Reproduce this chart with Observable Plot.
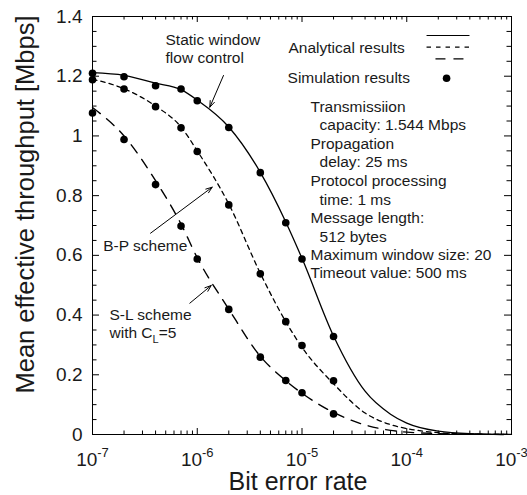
<!DOCTYPE html>
<html><head><meta charset="utf-8">
<script src="https://cdn.jsdelivr.net/npm/d3@7"></script>
<script src="https://cdn.jsdelivr.net/npm/@observablehq/plot@0.6"></script>
<style>body{margin:0;background:#fff;} svg{display:block;}</style>
</head><body><div id="chart"></div>
<script>
// ---- data ----
const berSim = [1e-7, 2e-7, 4e-7, 7e-7, 1e-6, 2e-6, 4e-6, 7e-6, 1e-5, 2e-5];
const simStatic = [1.210, 1.198, 1.168, 1.157, 1.118, 1.028, 0.877, 0.709, 0.588, 0.328];
const simBP     = [1.188, 1.157, 1.098, 1.027, 0.948, 0.769, 0.538, 0.378, 0.298, 0.180];
const simSL     = [1.077, 0.988, 0.837, 0.698, 0.588, 0.419, 0.259, 0.181, 0.140, 0.069];

const berAna = [1e-7, 2e-7, 4e-7, 7e-7, 1e-6, 2e-6, 4e-6, 7e-6, 1e-5, 2e-5, 4e-5, 7e-5, 1e-4, 2e-4, 4e-4, 1e-3];
const anaStatic = [1.212, 1.203, 1.177, 1.155, 1.120, 1.030, 0.878, 0.712, 0.590, 0.330, 0.145, 0.068, 0.038, 0.011, 0.003, 0.0005];
const anaBP     = [1.190, 1.158, 1.100, 1.030, 0.950, 0.772, 0.540, 0.378, 0.292, 0.170, 0.072, 0.033, 0.020, 0.006, 0.0015, 0.0002];
const anaSL     = [1.095, 1.000, 0.850, 0.705, 0.592, 0.420, 0.262, 0.180, 0.138, 0.074, 0.032, 0.014, 0.008, 0.003, 0.001, 0.0001];

const xTickValues = [1e-7, 1e-6, 1e-5, 1e-4, 1e-3];
const xTickExponents = ["-7", "-6", "-5", "-4", "-3"];
const yTickValues = [0, 0.2, 0.4, 0.6, 0.8, 1.0, 1.2, 1.4];
const yTickLabels = ["0", "0.2", "0.4", "0.6", "0.8", "1", "1.2", "1.4"];

const xTitle = "Bit error rate";
const yTitle = "Mean effective throughput [Mbps]";

// annotation texts (positions in data space)
const labels = [
  {t: "Static window", x: 4.98e-7, y: 1.3029},
  {t: "flow control", x: 4.98e-7, y: 1.2436},
  {t: "Analytical results", x: 7.43e-6, y: 1.2761},
  {t: "Simulation results", x: 7.28e-6, y: 1.1756},
  {t: "B-P scheme", x: 1.265e-7, y: 0.613},
  {t: "S-L scheme", x: 1.453e-7, y: 0.3842},
  {t: "with C_L=5", x: 1.453e-7, y: 0.3239},
  {t: "Transmissiion", x: 1.205e-5, y: 1.0795},
  {t: "capacity: 1.544 Mbps", x: 1.47e-5, y: 1.0205},
  {t: "Propagation", x: 1.205e-5, y: 0.9569},
  {t: "delay: 25 ms", x: 1.47e-5, y: 0.8953},
  {t: "Protocol processing", x: 1.205e-5, y: 0.8316},
  {t: "time: 1 ms", x: 1.47e-5, y: 0.7693},
  {t: "Message length:", x: 1.205e-5, y: 0.7077},
  {t: "512 bytes", x: 1.47e-5, y: 0.6464},
  {t: "Maximum window size: 20", x: 1.205e-5, y: 0.5828},
  {t: "Timeout value: 500 ms", x: 1.205e-5, y: 0.5235}
];
const arrows = [
  {x1: 1.78e-6, y1: 1.2024, x2: 1.318e-6, y2: 1.0962},
  {x1: 3.58e-7, y1: 0.6742, x2: 1.389e-6, y2: 0.8283},
  {x1: 8.49e-7, y1: 0.4398, x2: 1.359e-6, y2: 0.4990}
];
const legendSolid = [{x1: 1.545e-4, x2: 3.97e-4, y: 1.3364}];
const legendShort = [{x1: 1.545e-4, x2: 3.97e-4, y: 1.2972}];
const legendLong  = [{x1: 1.88e-4, x2: 3.60e-4, y: 1.2583}];
const legendDot   = [{x: 2.4e-4, y: 1.1934}];

// ---- build ----
const W = 527, H = 495, mL = 92, mR = 16, mT = 16, mB = 61;
const plotW = W - mL - mR, plotH = H - mT - mB;

const toPts = (xs, ys) => xs.map((x, i) => ({x, y: ys[i]}));
const xMinor = [];
for (let d = -7; d <= -4; d++) for (let k = 2; k <= 9; k++) xMinor.push(k * Math.pow(10, d));
const yMinor = [];
for (let i = 0; i <= 28; i++) if (i % 4 !== 0) yMinor.push(i * 0.05);

const font = "Liberation Sans, Arial, Helvetica, sans-serif";
const ink = "#1a1a1a";
const lineStyle = {x: "x", y: "y", curve: "monotone-x", stroke: "black", strokeWidth: 1.3};

const svg = Plot.plot({
  width: W, height: H,
  marginLeft: mL, marginRight: mR, marginTop: mT, marginBottom: mB,
  style: {fontFamily: font, fontSize: "15px", background: "white", color: "black"},
  x: {type: "log", domain: [1e-7, 1e-3], axis: null},
  y: {domain: [0, 1.4], axis: null},
  marks: [
    // ticks (inward)
    Plot.tickX(xTickValues, {x: d => d, insetTop: plotH - 6, stroke: "black"}),
    Plot.tickX(xTickValues, {x: d => d, insetBottom: plotH - 6, stroke: "black"}),
    Plot.tickX(xMinor, {x: d => d, insetTop: plotH - 3.5, stroke: "black"}),
    Plot.tickX(xMinor, {x: d => d, insetBottom: plotH - 3.5, stroke: "black"}),
    Plot.tickY(yTickValues, {y: d => d, insetRight: plotW - 7, stroke: "black"}),
    Plot.tickY(yTickValues, {y: d => d, insetLeft: plotW - 7, stroke: "black"}),
    Plot.tickY(yMinor, {y: d => d, insetRight: plotW - 4.5, stroke: "black"}),
    Plot.tickY(yMinor, {y: d => d, insetLeft: plotW - 4.5, stroke: "black"}),
    Plot.frame({stroke: "black", strokeWidth: 1}),
    // analytical curves
    Plot.line(toPts(berAna, anaStatic), lineStyle),
    Plot.line(toPts(berAna, anaBP), {...lineStyle, strokeDasharray: "4.5,4"}),
    Plot.line(toPts(berAna, anaSL), {...lineStyle, strokeWidth: 1.4, strokeDasharray: "10,8"}),
    // simulation points
    Plot.dot(toPts(berSim, simStatic), {x: "x", y: "y", r: 3.8, fill: "black"}),
    Plot.dot(toPts(berSim, simBP), {x: "x", y: "y", r: 3.8, fill: "black"}),
    Plot.dot(toPts(berSim, simSL), {x: "x", y: "y", r: 3.8, fill: "black"}),
    // legend
    Plot.link(legendSolid, {x1: "x1", x2: "x2", y1: "y", y2: "y", stroke: "black", strokeWidth: 1.2}),
    Plot.link(legendShort, {x1: "x1", x2: "x2", y1: "y", y2: "y", stroke: "black", strokeWidth: 1.2, strokeDasharray: "4.5,5"}),
    Plot.link(legendLong, {x1: "x1", x2: "x2", y1: "y", y2: "y", stroke: "black", strokeWidth: 1.2, strokeDasharray: "10,8"}),
    Plot.dot(legendDot, {x: "x", y: "y", r: 3.8, fill: "black"}),
    // annotations
    Plot.text(labels, {x: "x", y: "y", text: "t", textAnchor: "start", lineAnchor: "bottom", fontSize: 15.5, fill: ink}),
    Plot.arrow(arrows, {x1: "x1", y1: "y1", x2: "x2", y2: "y2", stroke: "black", strokeWidth: 1, headLength: 10, headAngle: 40}),
    // tick labels
    Plot.text(xTickValues, {x: d => d, frameAnchor: "bottom", textAnchor: "middle", lineAnchor: "bottom", dy: 31, fontSize: 19,
      text: (d, i) => "10^" + xTickExponents[i], fill: ink}),
    Plot.text(yTickValues, {y: d => d, frameAnchor: "left", textAnchor: "end", lineAnchor: "middle", dx: -10, fontSize: 19,
      text: (d, i) => yTickLabels[i], fill: ink}),
    // axis titles
    Plot.text([xTitle], {frameAnchor: "bottom", textAnchor: "middle", lineAnchor: "bottom", dy: 55, dx: -4, fontSize: 25, fill: ink}),
    Plot.text([yTitle], {frameAnchor: "left", textAnchor: "middle", rotate: -90, lineAnchor: "bottom", dx: -59, dy: -21, fontSize: 25.5, fill: ink})
  ]
});

const NS = "http://www.w3.org/2000/svg";
svg.querySelectorAll("text").forEach(t => {
  const s = t.textContent;
  if (/^10\^/.test(s)) {
    const [base, exp] = s.split("^");
    t.textContent = base;
    const ts = document.createElementNS(NS, "tspan");
    ts.setAttribute("dy", "-8.5");
    ts.setAttribute("font-size", "13");
    ts.textContent = exp;
    t.appendChild(ts);
  } else if (s.includes("C_L")) {
    const [a, rest] = s.split("_");
    t.textContent = a;
    const sub = document.createElementNS(NS, "tspan");
    sub.setAttribute("dy", "5");
    sub.setAttribute("font-size", "11");
    sub.textContent = rest.charAt(0);
    const tail = document.createElementNS(NS, "tspan");
    tail.setAttribute("dy", "-5");
    tail.textContent = rest.slice(1);
    t.appendChild(sub);
    t.appendChild(tail);
  }
});
document.getElementById("chart").appendChild(svg);
</script>
</body></html>
